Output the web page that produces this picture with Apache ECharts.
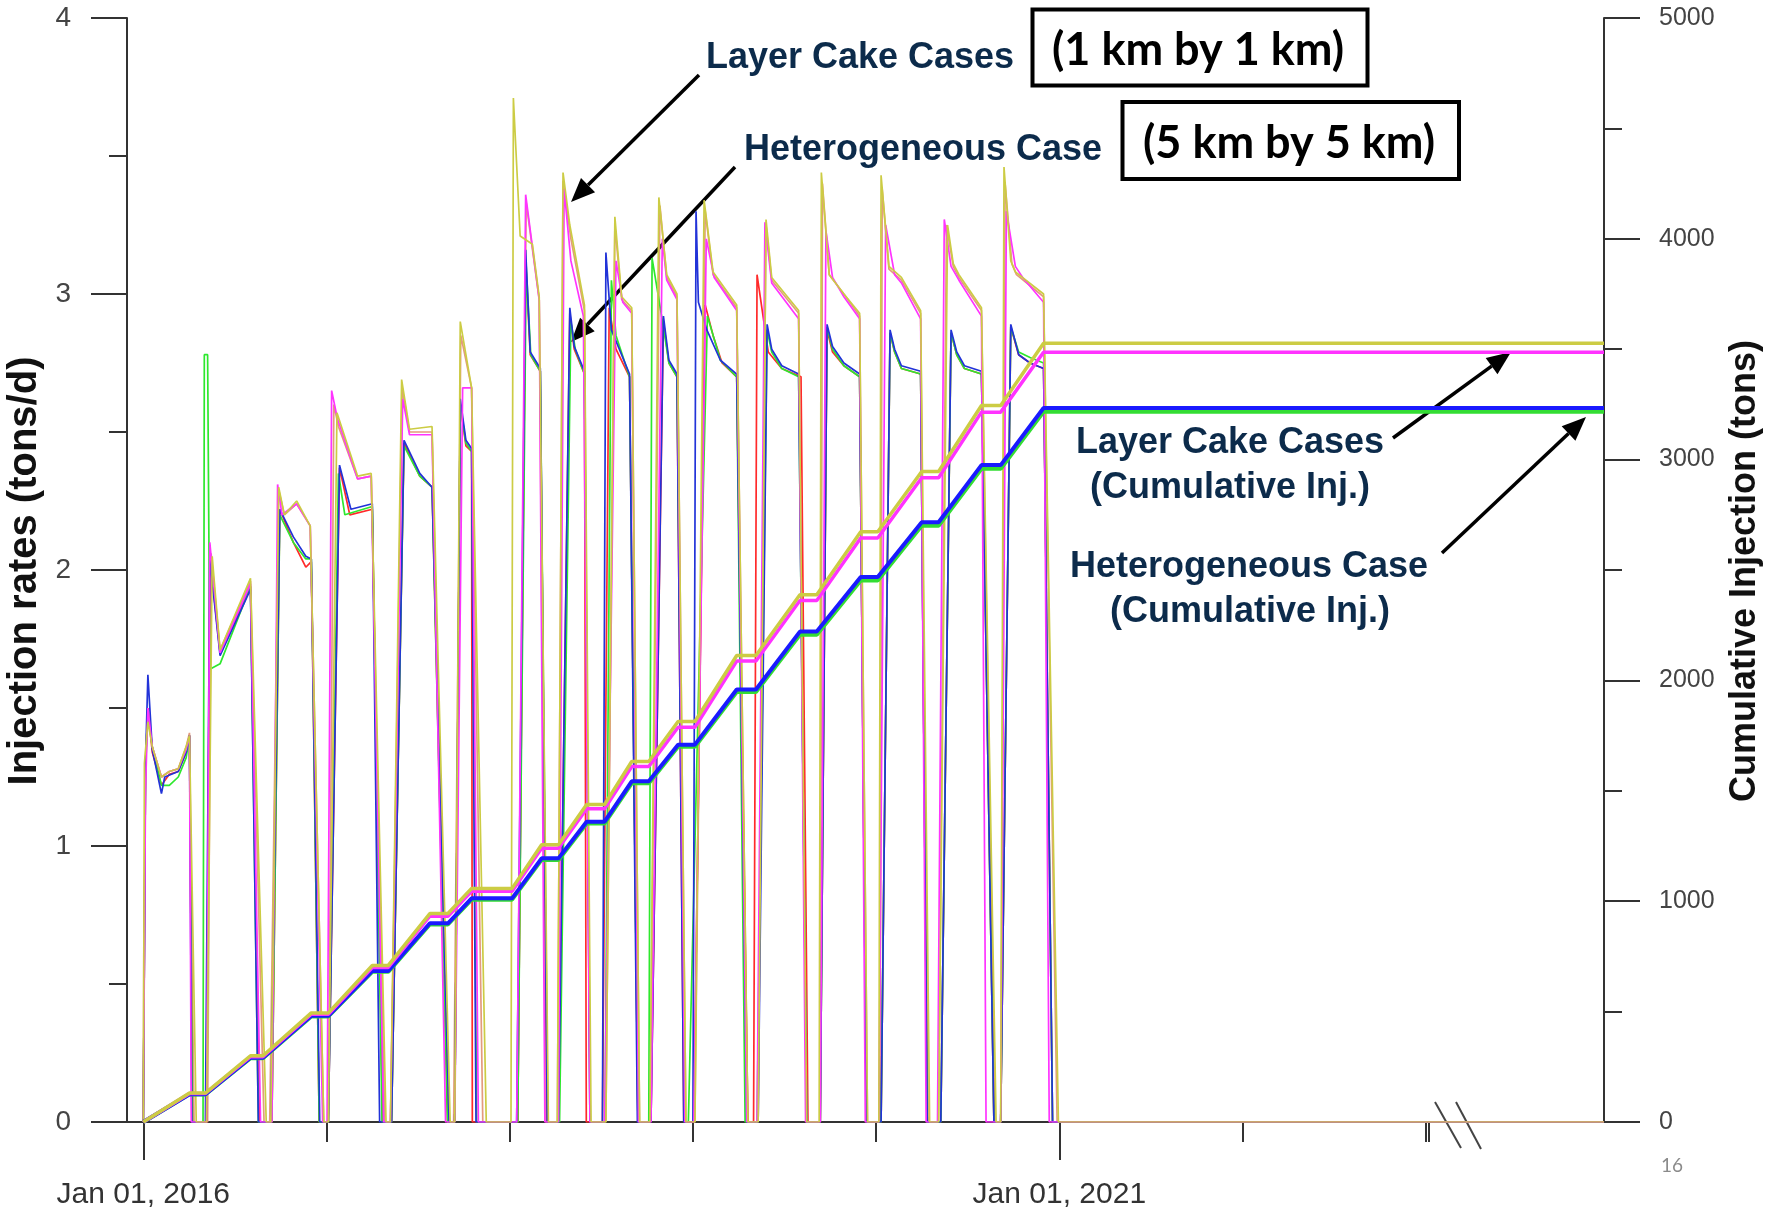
<!DOCTYPE html>
<html><head><meta charset="utf-8">
<script src="https://cdn.jsdelivr.net/npm/echarts@6/dist/echarts.min.js"></script>
<style>html,body{margin:0;padding:0;background:#fff}#c{width:1768px;height:1210px}</style>
</head><body><div id="c"></div>
<script>
// time in years since Jan 01, 2016
const xMinorTickValues = [1, 2, 3, 4, 6, 7, 7.016];
const xLabelValues = [0, 5];
const xLabelTexts = ['Jan 01, 2016', 'Jan 01, 2021'];

// Injection rates (tons/d)
const rateBlue = [
[0,0],[0.012,1.30],[0.025,1.62],[0.049,1.35],[0.099,1.19],[0.117,1.25],[0.191,1.27],[0.234,1.34],[0.252,1.40],[0.265,0],
[0.339,0],[0.363,2.04],[0.419,1.69],[0.585,1.93],[0.628,0],
[0.696,0],[0.745,2.22],[0.819,2.12],[0.887,2.05],[0.917,2.04],[0.963,0],
[1.010,0],[1.071,2.38],[1.133,2.22],[1.250,2.24],[1.290,0],
[1.355,0],[1.423,2.47],[1.509,2.35],[1.576,2.30],[1.669,0],
[1.700,0],[1.730,2.62],[1.761,2.47],[1.792,2.44],[1.816,0],
[2.038,0],[2.087,3.16],[2.112,2.79],[2.167,2.73],[2.205,0],
[2.266,0],[2.328,2.95],[2.352,2.81],[2.408,2.72],[2.438,0],
[2.506,0],[2.525,3.15],[2.555,2.87],[2.654,2.71],[2.697,0],
[2.771,0],[2.839,2.92],[2.869,2.76],[2.913,2.71],[2.950,0],
[3.000,0],[3.017,3.30],[3.030,2.97],[3.076,2.87],[3.150,2.76],[3.239,2.71],[3.294,0],
[3.356,0],[3.405,2.89],[3.430,2.80],[3.485,2.74],[3.577,2.71],[3.621,0],
[3.695,0],[3.732,2.89],[3.762,2.81],[3.824,2.75],[3.910,2.71],[3.947,0],
[4.027,0],[4.076,2.87],[4.101,2.80],[4.138,2.74],[4.243,2.72],[4.279,0],
[4.353,0],[4.409,2.87],[4.440,2.79],[4.482,2.74],[4.575,2.72],[4.643,0],
[4.680,0],[4.735,2.89],[4.778,2.78],[4.840,2.75],[4.914,2.73],[4.963,0],
[7.973,0]];

const rateGreen = [
[0,0],[0.012,1.28],[0.025,1.48],[0.049,1.36],[0.099,1.22],[0.142,1.22],[0.191,1.25],[0.234,1.32],[0.252,1.40],[0.268,0],
[0.326,0],[0.333,2.78],[0.351,2.78],[0.363,1.64],[0.419,1.66],[0.585,1.94],[0.628,0],
[0.702,0],[0.745,2.20],[0.819,2.10],[0.887,2.04],[0.917,2.04],[0.960,0],
[1.010,0],[1.065,2.35],[1.100,2.20],[1.250,2.23],[1.303,0],
[1.355,0],[1.423,2.45],[1.509,2.34],[1.576,2.30],[1.660,0],
[1.700,0],[1.730,2.60],[1.761,2.46],[1.792,2.43],[1.820,0],
[2.044,0],[2.090,3.10],[2.115,2.78],[2.167,2.72],[2.208,0],
[2.272,0],[2.334,2.90],[2.358,2.80],[2.408,2.71],[2.440,0],
[2.520,0],[2.555,3.05],[2.580,2.85],[2.654,2.70],[2.700,0],
[2.759,0],[2.777,3.13],[2.839,2.88],[2.869,2.75],[2.913,2.70],[2.956,0],
[2.975,0],[3.079,2.92],[3.150,2.76],[3.239,2.70],[3.285,0],
[3.350,0],[3.405,2.87],[3.430,2.79],[3.485,2.73],[3.577,2.70],[3.621,0],
[3.695,0],[3.732,2.88],[3.762,2.80],[3.824,2.74],[3.910,2.70],[3.947,0],
[4.027,0],[4.076,2.86],[4.101,2.79],[4.138,2.73],[4.243,2.71],[4.279,0],
[4.353,0],[4.409,2.86],[4.440,2.78],[4.482,2.73],[4.575,2.71],[4.643,0],
[4.680,0],[4.735,2.88],[4.778,2.79],[4.840,2.77],[4.914,2.75],[4.963,0],
[7.973,0]];

const rateRed = [
[0,0],[0.012,1.30],[0.025,1.50],[0.049,1.34],[0.099,1.22],[0.142,1.26],[0.191,1.27],[0.234,1.34],[0.252,1.40],[0.268,0],
[0.345,0],[0.363,2.05],[0.419,1.70],[0.585,1.94],[0.634,0],
[0.702,0],[0.745,2.22],[0.819,2.10],[0.887,2.01],[0.917,2.03],[0.960,0],
[1.010,0],[1.071,2.37],[1.127,2.20],[1.250,2.22],[1.306,0],
[1.355,0],[1.423,2.46],[1.509,2.34],[1.576,2.30],[1.662,0],
[1.700,0],[1.730,2.60],[1.761,2.45],[1.792,2.43],[1.796,0],
[2.044,0],[2.087,3.12],[2.112,2.78],[2.167,2.72],[2.205,0],
[2.266,0],[2.328,2.93],[2.352,2.80],[2.408,2.71],[2.418,0],
[2.506,0],[2.543,2.95],[2.580,2.80],[2.654,2.70],[2.700,0],
[2.771,0],[2.839,2.90],[2.869,2.75],[2.913,2.70],[2.950,0],
[3.005,0],[3.067,2.96],[3.110,2.85],[3.159,2.75],[3.239,2.70],[3.300,0],
[3.331,0],[3.350,3.07],[3.411,2.79],[3.485,2.73],[3.590,2.70],[3.628,0],
[3.695,0],[3.732,2.87],[3.762,2.79],[3.824,2.74],[3.910,2.70],[3.947,0],
[4.027,0],[4.076,2.86],[4.101,2.79],[4.138,2.73],[4.243,2.71],[4.279,0],
[4.353,0],[4.409,2.86],[4.440,2.78],[4.482,2.73],[4.575,2.71],[4.643,0],
[4.680,0],[4.735,2.88],[4.778,2.78],[4.840,2.75],[4.914,2.73],[4.963,0],
[7.973,0]];

const rateMagenta = [
[0,0],[0.012,1.20],[0.025,1.50],[0.049,1.36],[0.099,1.25],[0.142,1.27],[0.191,1.28],[0.234,1.35],[0.252,1.40],[0.262,0],
[0.345,0],[0.363,2.10],[0.419,1.70],[0.585,1.95],[0.640,0],
[0.702,0],[0.733,2.31],[0.757,2.20],[0.837,2.24],[0.911,2.16],[0.979,0],
[1.003,0],[1.028,2.65],[1.059,2.55],[1.170,2.33],[1.244,2.34],[1.312,0],
[1.349,0],[1.416,2.62],[1.453,2.49],[1.576,2.49],[1.650,0],
[1.700,0],[1.743,2.66],[1.792,2.66],[1.829,0],
[2.038,0],[2.087,3.36],[2.161,2.98],[2.192,0],
[2.266,0],[2.297,3.38],[2.334,3.12],[2.402,2.92],[2.438,0],
[2.518,0],[2.580,3.12],[2.617,2.97],[2.666,2.93],[2.703,0],
[2.771,0],[2.833,3.20],[2.857,3.05],[2.913,2.98],[2.956,0],
[3.005,0],[3.073,3.20],[3.116,3.06],[3.239,2.94],[3.294,0],
[3.350,0],[3.393,3.26],[3.430,3.04],[3.577,2.91],[3.615,0],
[3.695,0],[3.726,3.23],[3.762,3.06],[3.824,2.99],[3.910,2.91],[3.941,0],
[4.015,0],[4.052,3.25],[4.101,3.07],[4.138,3.04],[4.243,2.91],[4.273,0],
[4.335,0],[4.372,3.27],[4.409,3.10],[4.452,3.05],[4.575,2.92],[4.600,0],
[4.680,0],[4.711,3.30],[4.760,3.10],[4.800,3.06],[4.914,2.97],[4.945,0],
[7.973,0]];

const rateYellow = [
[0,0],[0.006,1.30],[0.025,1.45],[0.049,1.36],[0.099,1.25],[0.142,1.27],[0.191,1.28],[0.234,1.36],[0.252,1.40],[0.289,0],
[0.345,0],[0.376,2.05],[0.419,1.71],[0.585,1.97],[0.671,0],
[0.696,0],[0.739,2.30],[0.770,2.20],[0.837,2.25],[0.911,2.16],[0.985,0],
[1.010,0],[1.057,2.57],[1.170,2.34],[1.244,2.35],[1.325,0],
[1.349,0],[1.410,2.69],[1.453,2.51],[1.576,2.52],[1.675,0],
[1.700,0],[1.730,2.90],[1.792,2.66],[1.872,0],
[2.007,0],[2.020,3.71],[2.057,3.21],[2.124,3.18],[2.161,2.99],[2.211,0],
[2.260,0],[2.291,3.44],[2.328,3.25],[2.408,2.96],[2.444,0],
[2.525,0],[2.574,3.28],[2.611,2.99],[2.666,2.95],[2.709,0],
[2.765,0],[2.814,3.35],[2.857,3.07],[2.913,3.00],[2.962,0],
[3.011,0],[3.061,3.34],[3.110,3.08],[3.239,2.96],[3.300,0],
[3.356,0],[3.399,3.27],[3.430,3.06],[3.577,2.94],[3.621,0],
[3.689,0],[3.701,3.44],[3.744,3.07],[3.824,3.00],[3.910,2.93],[3.953,0],
[4.015,0],[4.027,3.43],[4.070,3.10],[4.138,3.06],[4.243,2.94],[4.292,0],
[4.341,0],[4.390,3.25],[4.421,3.11],[4.452,3.07],[4.575,2.95],[4.655,0],
[4.680,0],[4.698,3.46],[4.735,3.12],[4.760,3.08],[4.914,3.00],[4.995,0],
[7.973,0]];

const rateSalmon = [
[0,0],[0.003,0.68],[0.012,1.30],[0.025,1.50],[0.049,1.36],[0.099,1.25],[0.142,1.27],[0.191,1.28],[0.234,1.36],[0.252,1.41],[0.277,0],
[0.351,0],[0.370,2.06],[0.419,1.71],[0.585,1.96],[0.659,0],
[0.690,0],[0.739,2.29],[0.770,2.20],[0.837,2.24],[0.911,2.16],[0.985,0],
[1.010,0],[1.040,2.60],[1.065,2.52],[1.170,2.33],[1.244,2.34],[1.318,0],
[1.349,0],[1.413,2.66],[1.453,2.50],[1.576,2.50],[1.662,0],
[1.694,0],[1.733,2.85],[1.792,2.66],[1.853,0],
[2.044,0],[2.090,3.33],[2.161,2.98],[2.198,0],
[2.260,0],[2.291,3.41],[2.334,3.20],[2.408,2.94],[2.438,0],
[2.525,0],[2.574,3.25],[2.611,2.98],[2.666,2.94],[2.709,0],
[2.765,0],[2.820,3.32],[2.857,3.06],[2.913,2.99],[2.962,0],
[3.011,0],[3.067,3.30],[3.110,3.07],[3.239,2.95],[3.300,0],
[3.356,0],[3.399,3.25],[3.430,3.05],[3.577,2.93],[3.621,0],
[3.695,0],[3.707,3.40],[3.744,3.07],[3.824,3.00],[3.910,2.92],[3.953,0],
[4.021,0],[4.033,3.38],[4.070,3.09],[4.138,3.05],[4.243,2.93],[4.285,0],
[4.341,0],[4.384,3.25],[4.421,3.10],[4.452,3.06],[4.575,2.94],[4.649,0],
[4.680,0],[4.704,3.40],[4.741,3.11],[4.766,3.07],[4.914,2.99],[4.988,0],
[7.973,0]];

// Cumulative injection (tons)
const cumBlue = [[0,0],[0.252,126],[0.339,126],[0.585,291],[0.653,291],[0.917,481],[1.010,481],[1.250,684],[1.337,684],[1.564,900],[1.663,900],[1.792,1013],[2.013,1013],[2.174,1194],[2.266,1194],[2.420,1360],[2.518,1360],[2.666,1543],[2.759,1543],[2.919,1709],[3.011,1709],[3.239,1959],[3.344,1959],[3.584,2221],[3.676,2221],[3.916,2468],[4.009,2468],[4.249,2716],[4.341,2716],[4.575,2975],[4.680,2975],[4.914,3234],[7.973,3234]];
const cumGreen = [[0,0],[0.252,125],[0.339,125],[0.585,289],[0.653,289],[0.917,478],[1.010,478],[1.250,680],[1.337,680],[1.564,895],[1.663,895],[1.792,1007],[2.013,1007],[2.174,1187],[2.266,1187],[2.420,1352],[2.518,1352],[2.666,1534],[2.759,1534],[2.919,1699],[3.011,1699],[3.239,1947],[3.344,1947],[3.584,2207],[3.676,2207],[3.916,2453],[4.009,2453],[4.249,2700],[4.341,2700],[4.575,2958],[4.680,2958],[4.914,3217],[7.973,3217]];
const cumYellow = [[0,0],[0.252,131],[0.339,131],[0.585,300],[0.653,300],[0.917,494],[1.010,494],[1.250,709],[1.337,709],[1.564,944],[1.663,944],[1.792,1058],[2.013,1058],[2.174,1256],[2.266,1256],[2.420,1438],[2.518,1438],[2.666,1633],[2.759,1633],[2.919,1814],[3.011,1814],[3.239,2113],[3.344,2113],[3.584,2388],[3.676,2388],[3.916,2673],[4.009,2673],[4.249,2946],[4.341,2946],[4.575,3245],[4.680,3245],[4.914,3527],[7.973,3527]];
const cumMagenta = [[0,0],[0.252,129],[0.339,129],[0.585,296],[0.653,296],[0.917,488],[1.010,488],[1.250,700],[1.337,700],[1.564,932],[1.663,932],[1.792,1045],[2.013,1045],[2.174,1240],[2.266,1240],[2.420,1419],[2.518,1419],[2.666,1610],[2.759,1610],[2.919,1788],[3.011,1788],[3.239,2088],[3.344,2088],[3.584,2362],[3.676,2362],[3.916,2645],[4.009,2645],[4.249,2918],[4.341,2918],[4.575,3215],[4.680,3215],[4.914,3486],[7.973,3486]];

const XMIN = -0.089, XMAX = 7.973;
const NAVY = '#0c2b4b';
const AX = '#333';
const SANS = '"Liberation Sans", Arial, sans-serif';

function rate(name, data, color, w) {
  return {name, type:'line', xAxisIndex:0, yAxisIndex:0, data, showSymbol:false, symbol:'none', silent:true,
    lineStyle:{color, width:w||1.7}, itemStyle:{color}, z:2};
}
function cum(name, data, color, w) {
  return {name, type:'line', xAxisIndex:0, yAxisIndex:1, data, showSymbol:false, symbol:'none', silent:true,
    lineStyle:{color, width:w}, itemStyle:{color}, z:3};
}
function arrow(x1,y1,x2,y2){
  const a = Math.atan2(y2-y1, x2-x1), L = 24, W = 10;
  const bx = x2 - L*Math.cos(a), by = y2 - L*Math.sin(a);
  const px = -Math.sin(a)*W, py = Math.cos(a)*W;
  return [
    {type:'line', shape:{x1, y1, x2:bx, y2:by}, style:{stroke:'#000', lineWidth:3.5}},
    {type:'polygon', shape:{points:[[x2,y2],[bx+px,by+py],[bx-px,by-py]]}, style:{fill:'#000'}}
  ];
}
function navyText(t, x, y){
  return {type:'text', x, y, style:{text:t, font:'bold 36px '+SANS, fill:NAVY, align:'center', verticalAlign:'middle'}};
}

const chart = echarts.init(document.getElementById('c'), null, {renderer:'canvas'});
chart.setOption({
  animation:false,
  backgroundColor:'#fff',
  grid:{left:127, right:164, top:18, bottom:86, containLabel:false},
  xAxis:[
    {type:'value', min:XMIN, max:XMAX, position:'bottom',
     axisLine:{show:true, onZero:false, lineStyle:{color:AX, width:2}},
     axisTick:{show:true, customValues:xMinorTickValues, length:20, lineStyle:{color:AX, width:2}},
     axisLabel:{show:false}, splitLine:{show:false}},
    {type:'value', min:XMIN, max:XMAX, position:'bottom',
     axisLine:{show:false, onZero:false},
     axisTick:{show:true, customValues:xLabelValues, length:38, lineStyle:{color:AX, width:2}},
     axisLabel:{show:true, customValues:xLabelValues, formatter:(v)=>xLabelTexts[xLabelValues.indexOf(v)],
       fontSize:30, color:'#333', margin:58, fontFamily:SANS},
     splitLine:{show:false}}
  ],
  yAxis:[
    {type:'value', position:'left', min:0, max:4, interval:1,
     axisLine:{show:true, onZero:false, lineStyle:{color:AX, width:2}},
     axisTick:{show:true, length:36, lineStyle:{color:AX, width:2}},
     minorTick:{show:true, splitNumber:2, length:18, lineStyle:{color:AX, width:2}},
     axisLabel:{fontSize:28, color:'#444', margin:56, fontFamily:SANS, formatter:(v)=>String(v)},
     splitLine:{show:false}, minorSplitLine:{show:false}},
    {type:'value', position:'right', min:0, max:5000, interval:1000,
     axisLine:{show:true, onZero:false, lineStyle:{color:AX, width:2}},
     axisTick:{show:true, length:36, lineStyle:{color:AX, width:2}},
     minorTick:{show:true, splitNumber:2, length:18, lineStyle:{color:AX, width:2}},
     axisLabel:{fontSize:25, color:'#444', margin:55, fontFamily:SANS, formatter:(v)=>String(v)},
     splitLine:{show:false}, minorSplitLine:{show:false}}
  ],
  series:[
    rate('Salmon', rateSalmon, '#e39b7e'),
    rate('Red', rateRed, '#ff2a2a'),
    rate('Green', rateGreen, '#2ee82e'),
    rate('Blue', rateBlue, '#2233d8'),
    rate('Magenta', rateMagenta, '#ff33ff'),
    rate('Yellow', rateYellow, '#cccc44'),
    cum('Green cum', cumGreen, '#33dd33', 4),
    cum('Blue cum', cumBlue, '#1a1aff', 4),
    cum('Magenta cum', cumMagenta, '#ff33ff', 3.5),
    cum('Yellow cum', cumYellow, '#cccc44', 3.5)
  ],
  graphic:{elements:[
    {type:'text', x:25, y:571, rotation:Math.PI/2, style:{text:'Injection rates (tons/d)', font:'bold 40px '+SANS, fill:'#111', align:'center', verticalAlign:'middle'}},
    {type:'text', x:1745, y:571, rotation:Math.PI/2, style:{text:'Cumulative Injection (tons)', font:'bold 36px '+SANS, fill:'#111', align:'center', verticalAlign:'middle'}},
    navyText('Layer Cake Cases', 860, 58),
    navyText('Heterogeneous Case', 923, 150),
    navyText('Layer Cake Cases', 1230, 443),
    navyText('(Cumulative Inj.)', 1230, 488),
    navyText('Heterogeneous Case', 1249, 567),
    navyText('(Cumulative Inj.)', 1250, 612),
    {type:'rect', shape:{x:1032.5, y:9.5, width:335, height:76}, style:{fill:'#fff', stroke:'#000', lineWidth:4}},
    {type:'text', x:1198, y:50, style:{text:'(1 km by 1 km)', font:'bold 45px Lato', fill:'#000', align:'center', verticalAlign:'middle'}},
    {type:'rect', shape:{x:1122.5, y:102, width:336.5, height:77}, style:{fill:'#fff', stroke:'#000', lineWidth:4}},
    {type:'text', x:1289, y:143, style:{text:'(5 km by 5 km)', font:'bold 45px Lato', fill:'#000', align:'center', verticalAlign:'middle'}},
    ...arrow(699, 75, 571, 202),
    ...arrow(735, 167, 571, 342),
    ...arrow(1393, 438, 1511, 352),
    ...arrow(1442, 553, 1586, 417),
    {type:'line', shape:{x1:1435, y1:1102, x2:1461, y2:1148}, style:{stroke:'#444', lineWidth:2}},
    {type:'line', shape:{x1:1456, y1:1102, x2:1481, y2:1149}, style:{stroke:'#444', lineWidth:2}},
    {type:'text', x:1672, y:1166, style:{text:'16', font:'19px Lato', fill:'#8a8a8a', align:'center', verticalAlign:'middle'}}
  ]}
});
</script></body></html>
